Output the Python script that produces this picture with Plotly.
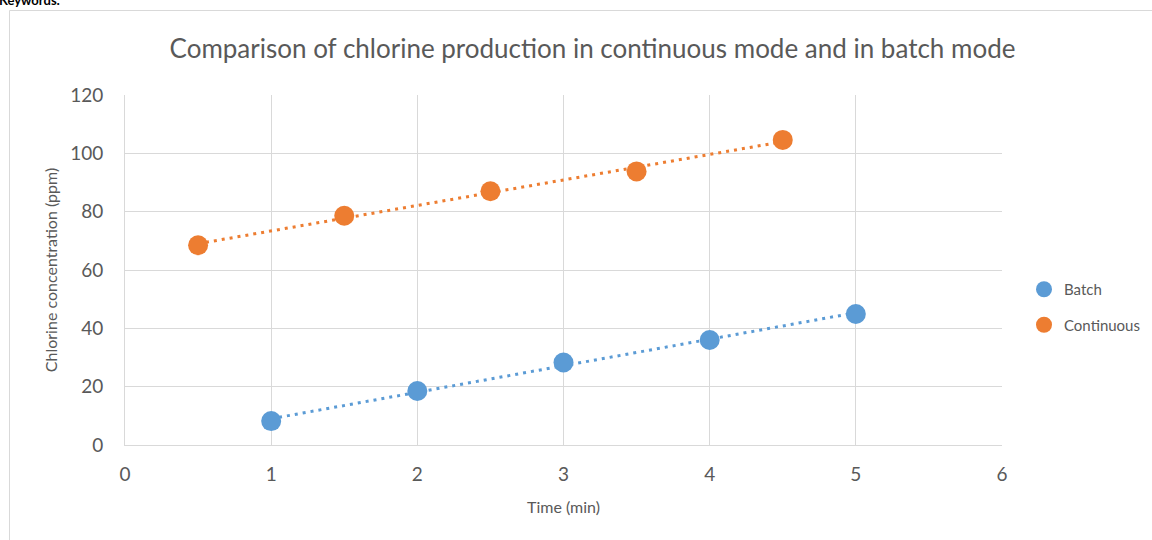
import numpy as np
import plotly.graph_objects as go

batch_time = [1, 2, 3, 4, 5]
batch_cl = [8.2, 18.5, 28.3, 36.0, 44.9]
cont_time = [0.5, 1.5, 2.5, 3.5, 4.5]
cont_cl = [68.5, 78.6, 87.0, 93.8, 104.6]

x_ticks = [0, 1, 2, 3, 4, 5, 6]
y_ticks = [0, 20, 40, 60, 80, 100, 120]

BLUE = "#5B9BD5"
ORANGE = "#ED7D31"
GRAY = "#595959"
FONT = "Lato, 'Open Sans', sans-serif"

# plot area in pixels: left 125, right 1002, top 95, bottom 445
L, R, T, B = 125, 1002, 95, 445
def px(x):
    return (x - L) / (R - L)
def py(y):
    return (B - y) / (B - T)

fig = go.Figure()

series = [(batch_time, batch_cl, BLUE, "Batch"),
          (cont_time, cont_cl, ORANGE, "Continuous")]

for tx, ty, col, name in series:
    k, b = np.polyfit(tx, ty, 1)
    xs = np.array([tx[0], tx[-1]])
    fig.add_trace(go.Scatter(x=xs, y=k * xs + b, mode="lines",
                             line=dict(color=col, width=3, dash="3px,5px"),
                             showlegend=False, hoverinfo="skip"))

for tx, ty, col, name in series:
    fig.add_trace(go.Scatter(x=tx, y=ty, mode="markers", name=name, legendgroup=name,
                             marker=dict(color=col, size=20, line=dict(width=0))))

fig.update_layout(
    width=1152, height=540,
    margin=dict(l=L, r=1152 - R, t=T, b=540 - B, autoexpand=False),
    paper_bgcolor="white", plot_bgcolor="white",
    font=dict(family=FONT, color=GRAY),
    title=dict(text="Comparison of chlorine production in continuous mode and in batch mode",
               x=(165 + 1020) / 2 / 1152, xanchor="center", y=1 - 49 / 540, yanchor="middle",
               font=dict(size=26, color=GRAY, family=FONT)),
    legend=dict(x=px(1024), xanchor="left", y=py(273), yanchor="top",
                font=dict(size=15, color=GRAY), itemwidth=30, tracegroupgap=13,
                bgcolor="rgba(0,0,0,0)"),
    shapes=[dict(type="rect", xref="paper", yref="paper",
                 x0=px(9.5), x1=1.3, y0=-0.3, y1=py(10.5),
                 line=dict(color="#D9D9D9", width=1), fillcolor="rgba(0,0,0,0)", layer="below")],
    annotations=[dict(text="<b>Keywords:</b>", xref="paper", yref="paper",
                      x=px(-3), xanchor="left", y=py(0), yanchor="middle",
                      showarrow=False, font=dict(size=13, color="black", family=FONT))],
)

fig.update_xaxes(range=[0, 6], tickvals=x_ticks, showgrid=True, gridcolor="#D9D9D9", gridwidth=1,
                 showline=True, linecolor="#D9D9D9", linewidth=1, zeroline=False,
                 ticks="", tickfont=dict(size=19, color=GRAY), ticklabelstandoff=12,
                 title=dict(text="Time (min)", font=dict(size=16, color=GRAY), standoff=18))
fig.update_yaxes(range=[0, 120], tickvals=y_ticks, showgrid=True, gridcolor="#D9D9D9", gridwidth=1,
                 showline=True, linecolor="#D9D9D9", linewidth=1, zeroline=False,
                 ticks="", tickfont=dict(size=19, color=GRAY), ticklabelstandoff=17,
                 title=dict(text="Chlorine concentration (ppm)", font=dict(size=16, color=GRAY), standoff=8))

fig.write_html("out.html", config={"displayModeBar": False},
               post_script="document.body.style.margin='0';")
